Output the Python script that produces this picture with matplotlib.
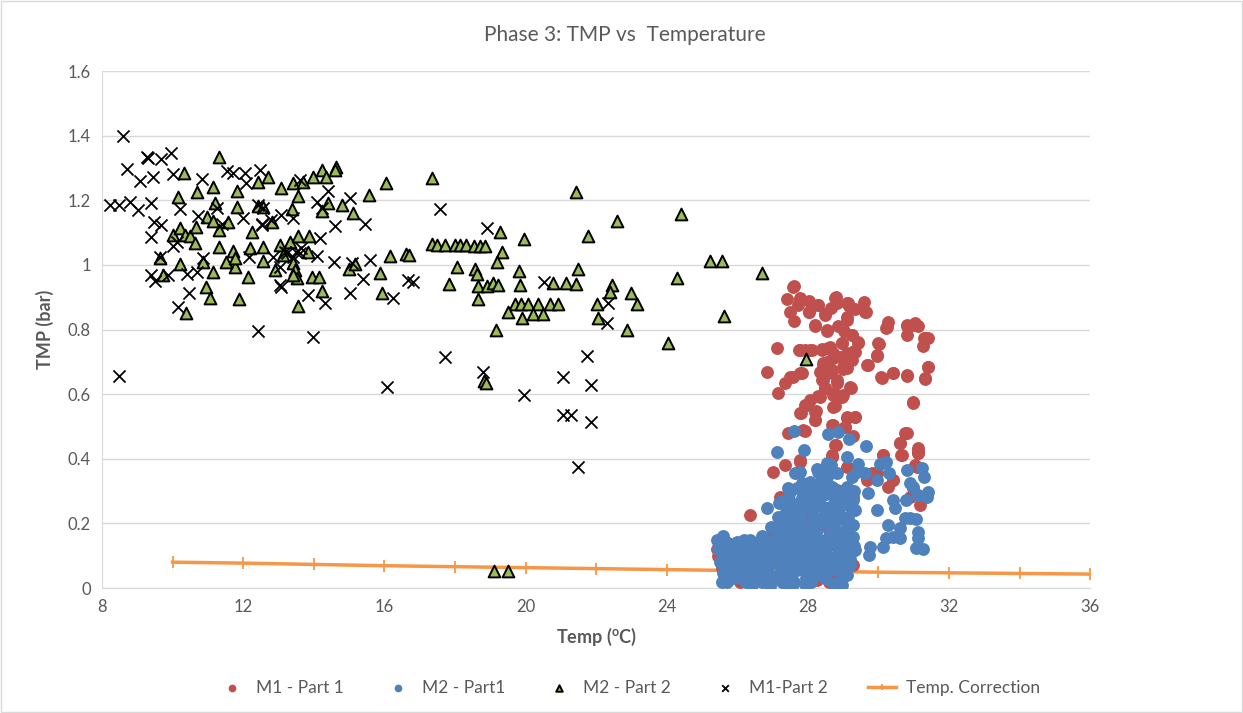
import numpy as np
import matplotlib.pyplot as plt
from matplotlib.patches import Rectangle

# M1 - Part 1 (red)
m1p1_temp = [27.62, 27.42, 27.78, 28.04, 27.50, 27.62, 27.73, 28.02, 28.30, 28.49, 28.65, 28.80, 28.84,
             29.10, 29.17, 29.34, 29.60, 29.64, 29.10, 28.85, 29.03, 28.20, 28.53, 29.24, 30.28, 30.23,
             30.80, 30.99, 31.13, 30.82, 31.29, 31.42, 31.26, 30.02, 29.95, 29.70, 29.43, 29.31, 28.96,
             27.12, 27.75, 27.92, 28.11, 28.39, 28.58, 28.72, 28.91, 29.10, 29.20, 28.53, 28.44, 28.68,
             29.01, 26.83, 27.50, 27.78, 27.35, 27.15, 28.39, 28.49, 28.82, 29.21, 29.01, 28.75, 28.30,
             27.97, 27.81, 28.23, 28.20, 28.77, 29.10, 29.34, 30.09, 30.42, 30.80, 31.42, 31.33, 30.99,
             28.72, 29.05, 27.45, 27.92, 28.80, 30.80, 30.61, 30.63, 31.13, 31.13, 30.14, 27.78, 27.35,
             27.02, 28.68, 29.10, 29.83, 30.28, 30.42, 31.09, 30.99, 31.18, 26.36, 27.21, 27.45, 27.78,
             28.06, 28.25, 28.68, 28.82, 29.29, 29.67, 29.95, 30.89, 25.42, 25.56, 25.89, 26.41, 26.83,
             27.12, 27.50, 27.78, 28.16, 28.25, 28.53, 28.87, 29.29, 26.08, 26.65, 27.31, 28.53, 28.82,
             29.10, 27.68,
             27.59, 27.78, 28.02, 28.30, 28.49, 28.77, 29.15, 29.62, 29.10, 28.54, 28.20, 29.24, 29.43,
             30.24, 30.80, 31.04, 31.32, 30.00, 29.95, 29.67, 31.42, 31.32, 30.80, 30.42, 30.07, 27.78,
             28.06, 28.39, 28.63, 28.96, 29.34, 29.24, 28.72, 28.44, 28.35, 28.58, 29.01, 29.10, 27.83,
             27.59, 28.44, 28.82, 29.20, 28.49, 28.72, 28.96, 28.35, 28.06, 27.92, 28.72, 27.78, 28.20,
             28.20, 29.10, 29.34, 29.05, 28.68, 27.87, 29.29, 28.77, 30.99, 30.76, 30.61, 31.13, 31.13,
             30.66, 30.14, 28.68, 27.78, 29.67, 29.95, 30.42, 31.04,
             25.45, 25.70, 26.00, 26.30, 26.60, 26.90, 27.30, 27.70, 28.05, 28.40, 28.75, 29.05, 26.20,
             27.00, 28.60, 27.40]
m1p1_tmp = [0.935, 0.893, 0.897, 0.889, 0.855, 0.827, 0.876, 0.853, 0.876, 0.847, 0.866, 0.900, 0.881,
            0.883, 0.873, 0.863, 0.886, 0.853, 0.840, 0.811, 0.796, 0.811, 0.795, 0.783, 0.824, 0.804,
            0.812, 0.814, 0.812, 0.783, 0.773, 0.773, 0.749, 0.754, 0.718, 0.690, 0.759, 0.732, 0.757,
            0.742, 0.737, 0.737, 0.737, 0.739, 0.742, 0.727, 0.716, 0.727, 0.706, 0.701, 0.685, 0.675,
            0.677, 0.668, 0.654, 0.664, 0.633, 0.605, 0.644, 0.620, 0.633, 0.620, 0.597, 0.603, 0.594,
            0.566, 0.543, 0.548, 0.520, 0.563, 0.525, 0.530, 0.651, 0.664, 0.656, 0.683, 0.646, 0.574,
            0.504, 0.499, 0.479, 0.487, 0.443, 0.479, 0.448, 0.412, 0.427, 0.417, 0.412, 0.391, 0.381,
            0.360, 0.407, 0.376, 0.357, 0.314, 0.334, 0.376, 0.309, 0.257, 0.226, 0.283, 0.272, 0.241,
            0.231, 0.272, 0.247, 0.303, 0.283, 0.334, 0.355, 0.283, 0.120, 0.061, 0.077, 0.082, 0.056,
            0.082, 0.128, 0.159, 0.149, 0.025, 0.087, 0.118, 0.071, 0.020, 0.046, 0.200, 0.190, 0.231,
            0.169, 0.190,
            0.933, 0.891, 0.855, 0.876, 0.845, 0.897, 0.881, 0.855, 0.830, 0.799, 0.814, 0.783, 0.762,
            0.809, 0.814, 0.819, 0.773, 0.757, 0.721, 0.690, 0.685, 0.649, 0.659, 0.664, 0.652, 0.737,
            0.737, 0.737, 0.747, 0.757, 0.731, 0.706, 0.711, 0.695, 0.670, 0.665, 0.685, 0.680, 0.664,
            0.654, 0.644, 0.644, 0.623, 0.618, 0.597, 0.592, 0.592, 0.582, 0.566, 0.561, 0.541, 0.546,
            0.520, 0.530, 0.530, 0.499, 0.505, 0.489, 0.469, 0.443, 0.577, 0.479, 0.448, 0.432, 0.417,
            0.412, 0.412, 0.412, 0.396, 0.345, 0.355, 0.334, 0.381,
            0.100, 0.040, 0.120, 0.030, 0.090, 0.150, 0.020, 0.110, 0.060, 0.130, 0.030, 0.090, 0.050,
            0.170, 0.020, 0.240]

# M2 - Part1 (blue)
m2p1_temp = [27.62, 28.58, 28.85, 29.17, 29.64, 27.14, 27.89, 29.10, 28.54, 28.25, 27.64, 27.78, 29.43,
             30.05, 30.23, 29.95, 29.62, 29.24, 28.82, 30.31, 30.82, 31.23, 31.29, 30.91, 30.99, 31.42,
             31.37, 31.13, 30.42, 30.47, 30.78, 29.71, 29.95, 29.29, 29.34, 29.01, 28.68, 28.35, 28.06,
             27.83, 27.45, 27.83, 28.20, 26.83, 27.18, 27.50, 27.17, 26.95, 27.40, 30.75, 30.89, 31.07,
             30.61, 30.28, 31.13, 31.13, 30.42, 30.61, 30.23, 30.14, 31.08, 31.27, 29.76, 29.72, 29.34,
             29.29, 28.91, 28.53, 28.16, 27.78, 27.50, 27.12, 26.74, 26.36, 25.98, 25.75, 25.42, 25.61,
             25.89, 26.17, 26.46, 26.83, 27.21, 27.59, 27.97, 28.35, 28.72, 29.10, 29.01, 28.63, 28.25,
             27.87, 27.50, 27.12, 26.74, 26.36, 25.98, 25.70, 25.61, 25.56, 25.98, 26.41, 26.93, 27.26,
             27.59, 27.92, 27.21, 27.69, 28.06, 28.44, 28.72, 28.96, 29.10, 28.82, 26.65, 26.27, 26.83,
             27.40, 27.97, 28.53, 28.44, 28.06, 27.69, 28.25, 28.63, 28.72, 28.44, 28.06, 27.78, 27.50,
             27.12, 28.82, 29.15, 29.29, 28.72, 28.54, 28.35, 29.10, 25.45, 25.80, 26.10, 26.55, 27.00,
             27.35, 27.85, 28.15, 28.45, 28.90, 26.20, 26.60, 27.05,
             25.55, 25.65, 25.72, 25.80, 25.85, 25.92, 26.00, 26.05, 26.12, 26.18, 26.25, 26.30, 26.35,
             26.42, 26.50, 26.55, 26.62, 26.70, 26.75, 26.80, 26.88, 26.95, 27.00, 27.05, 27.10, 27.18,
             27.25, 27.30, 27.35, 27.42, 27.48, 27.55, 27.60, 27.65, 27.72, 27.78, 27.82, 27.90, 27.95,
             28.00, 28.05, 28.12, 28.18, 28.22, 28.30, 28.35, 28.40, 28.48, 28.55, 28.60, 28.68, 28.75,
             28.80, 28.88, 28.95, 29.00, 29.08, 29.15, 29.20, 29.30, 25.75, 26.05, 26.58, 27.45, 28.10,
             26.20, 26.70, 25.60,
             27.15, 27.25, 27.30, 27.40, 27.48, 27.55, 27.62, 27.70, 27.75, 27.85, 27.90, 27.98, 28.02,
             28.10, 28.15, 28.22, 28.28, 28.35, 28.40, 28.45, 28.52, 28.58, 28.62, 28.70, 28.78, 28.85,
             28.92, 29.00, 29.05, 29.12, 29.22, 29.30, 28.50, 28.30, 28.65, 29.40,
             25.50, 25.90, 26.30, 26.65, 26.95, 27.20, 27.55, 27.85, 28.20, 28.50, 28.85, 29.20, 25.70,
             26.10, 26.45, 26.85, 27.35, 27.75, 28.15, 28.55, 28.95, 27.65, 28.00, 28.30, 28.70, 29.05,
             27.35, 27.95]
m2p1_tmp = [0.486, 0.476, 0.484, 0.461, 0.441, 0.420, 0.427, 0.407, 0.388, 0.367, 0.357, 0.360, 0.383,
            0.383, 0.391, 0.334, 0.355, 0.345, 0.355, 0.355, 0.365, 0.370, 0.345, 0.324, 0.314, 0.298,
            0.283, 0.288, 0.272, 0.247, 0.272, 0.293, 0.241, 0.272, 0.241, 0.293, 0.314, 0.324, 0.329,
            0.324, 0.309, 0.278, 0.288, 0.249, 0.262, 0.267, 0.216, 0.190, 0.231, 0.216, 0.216, 0.213,
            0.185, 0.195, 0.174, 0.154, 0.159, 0.154, 0.154, 0.128, 0.123, 0.120, 0.128, 0.102, 0.118,
            0.195, 0.169, 0.211, 0.211, 0.205, 0.190, 0.169, 0.159, 0.149, 0.143, 0.138, 0.149, 0.107,
            0.092, 0.113, 0.128, 0.123, 0.138, 0.149, 0.154, 0.149, 0.138, 0.128, 0.097, 0.097, 0.107,
            0.107, 0.097, 0.097, 0.092, 0.087, 0.082, 0.077, 0.046, 0.018, 0.046, 0.009, 0.006, 0.020,
            0.012, 0.012, 0.046, 0.056, 0.046, 0.056, 0.017, 0.009, 0.040, 0.056, 0.077, 0.066, 0.066,
            0.077, 0.077, 0.071, 0.128, 0.138, 0.128, 0.180, 0.169, 0.241, 0.252, 0.252, 0.231, 0.169,
            0.128, 0.211, 0.221, 0.159, 0.293, 0.324, 0.293, 0.314, 0.120, 0.110, 0.060, 0.110, 0.105,
            0.060, 0.185, 0.095, 0.110, 0.090, 0.030, 0.035, 0.030,
            0.130, 0.100, 0.140, 0.070, 0.120, 0.030, 0.100, 0.140, 0.060, 0.110, 0.020, 0.130, 0.050,
            0.100, 0.140, 0.070, 0.120, 0.020, 0.090, 0.140, 0.050, 0.110, 0.150, 0.030, 0.120, 0.070,
            0.150, 0.100, 0.040, 0.130, 0.180, 0.080, 0.020, 0.120, 0.170, 0.060, 0.110, 0.190, 0.030,
            0.140, 0.080, 0.180, 0.110, 0.040, 0.150, 0.090, 0.200, 0.120, 0.050, 0.160, 0.090, 0.190,
            0.130, 0.070, 0.160, 0.110, 0.050, 0.140, 0.090, 0.130, 0.050, 0.050, 0.030, 0.010, 0.020,
            0.150, 0.160, 0.160,
            0.220, 0.270, 0.190, 0.240, 0.290, 0.210, 0.260, 0.310, 0.220, 0.280, 0.240, 0.320, 0.200,
            0.270, 0.230, 0.310, 0.190, 0.260, 0.340, 0.220, 0.290, 0.350, 0.250, 0.310, 0.270, 0.240,
            0.300, 0.220, 0.270, 0.190, 0.250, 0.300, 0.370, 0.360, 0.380, 0.360,
            0.080, 0.120, 0.080, 0.050, 0.080, 0.040, 0.050, 0.090, 0.060, 0.030, 0.100, 0.070, 0.020,
            0.030, 0.120, 0.120, 0.070, 0.140, 0.130, 0.080, 0.030, 0.240, 0.300, 0.210, 0.230, 0.260,
            0.230, 0.170]

# M2 - Part 2 (green triangles)
m2p2_temp = [11.32, 10.33, 10.16, 10.68, 11.13, 11.20, 11.83, 11.83, 12.41, 12.69, 13.07, 13.42, 13.70,
             13.99, 14.24, 14.36, 14.63, 14.60, 13.56, 14.41, 14.81, 15.12, 15.57, 16.05, 14.24, 13.37,
             12.43, 12.55, 10.97, 11.15, 11.58, 11.30, 12.81, 12.24, 10.02, 10.21, 10.35, 10.49, 10.63,
             10.65, 11.32, 11.70, 12.19, 12.55, 13.04, 13.33, 13.56, 13.86, 13.84, 13.14, 13.42, 13.47,
             13.52, 13.42, 13.94, 14.15, 14.24, 13.56, 12.55, 12.90, 12.14, 11.77, 11.51, 11.13, 10.87,
             10.21, 9.64, 9.74, 10.95, 11.06, 10.38, 11.88, 14.99, 15.18, 15.88, 15.93, 16.15, 16.61,
             11.77,
             17.36, 21.42, 24.41, 22.58, 19.28, 19.97, 21.76, 19.33, 16.70, 17.34, 17.48, 17.72, 18.00,
             18.14, 18.31, 18.54, 18.71, 18.85, 19.18, 18.05, 18.57, 18.62, 19.82, 21.50, 25.23, 25.58,
             24.30, 17.84, 18.66, 18.90, 19.07, 19.21, 19.84, 20.79, 21.14, 21.42, 22.46, 22.39, 22.99,
             18.66, 19.70, 19.86, 20.06, 20.35, 20.69, 20.93, 22.04, 23.17, 19.49, 19.89, 20.22, 20.49,
             22.05, 19.16, 22.89, 24.05, 25.63, 18.81, 18.87, 26.71, 27.95, 19.10, 19.50]
m2p2_tmp = [1.333, 1.285, 1.209, 1.227, 1.242, 1.190, 1.230, 1.180, 1.258, 1.271, 1.239, 1.254, 1.258,
            1.273, 1.294, 1.271, 1.304, 1.294, 1.213, 1.190, 1.185, 1.162, 1.216, 1.252, 1.168, 1.172,
            1.182, 1.178, 1.149, 1.136, 1.134, 1.108, 1.134, 1.103, 1.092, 1.113, 1.092, 1.089, 1.067,
            1.118, 1.056, 1.043, 1.051, 1.056, 1.062, 1.072, 1.088, 1.088, 1.041, 1.031, 1.005, 0.984,
            0.958, 0.969, 0.962, 0.962, 0.920, 0.874, 1.012, 0.984, 0.962, 0.995, 1.008, 0.979, 1.008,
            1.003, 1.020, 0.969, 0.933, 0.896, 0.850, 0.894, 0.986, 1.003, 0.974, 0.912, 1.028, 1.033,
            1.020,
            1.268, 1.225, 1.158, 1.137, 1.103, 1.079, 1.090, 1.041, 1.031, 1.065, 1.062, 1.062, 1.062,
            1.062, 1.062, 1.059, 1.059, 1.059, 1.008, 0.995, 0.986, 0.971, 0.981, 0.986, 1.013, 1.013,
            0.959, 0.941, 0.935, 0.935, 0.943, 0.938, 0.938, 0.945, 0.943, 0.940, 0.938, 0.917, 0.912,
            0.895, 0.879, 0.879, 0.879, 0.879, 0.879, 0.879, 0.879, 0.879, 0.855, 0.835, 0.847, 0.847,
            0.837, 0.799, 0.799, 0.757, 0.842, 0.641, 0.634, 0.976, 0.709, 0.052, 0.052]

# M1-Part 2 (black crosses)
m1p2_temp = [8.58, 8.23, 8.49, 8.79, 9.03, 8.70, 9.08, 9.27, 9.31, 9.67, 9.95, 9.43, 10.02, 9.38, 9.47,
             9.67, 9.40, 9.64, 9.38, 9.50, 9.88, 10.21, 10.73, 10.82, 10.02, 10.11, 10.40, 10.68, 10.45,
             10.16, 10.85, 11.27, 11.39, 11.53, 11.72, 12.05, 12.48, 12.09, 12.00, 12.42, 12.56, 12.52,
             12.54, 12.80, 13.08, 13.42, 12.16, 12.85, 13.04, 13.18, 13.23, 13.51, 13.65, 13.04, 13.08,
             13.84, 14.31, 12.41, 13.99, 14.08, 14.19, 13.42, 13.61, 14.41, 14.08, 14.22, 14.60, 15.02,
             15.45, 15.59, 15.40, 15.02, 16.25, 16.68, 14.57, 15.07, 13.61, 8.49, 16.08,
             17.58, 18.90, 16.80, 20.52, 22.35, 22.32, 17.72, 21.75, 18.80, 21.05, 21.87, 19.97, 21.07,
             21.28, 21.87, 21.50]
m1p2_tmp = [1.400, 1.185, 1.185, 1.195, 1.170, 1.296, 1.260, 1.335, 1.330, 1.327, 1.345, 1.273, 1.280,
            1.190, 1.134, 1.124, 1.087, 1.023, 0.969, 0.951, 0.969, 1.172, 1.151, 1.265, 1.057, 1.072,
            0.972, 0.979, 0.912, 0.871, 1.020, 1.175, 1.128, 1.290, 1.283, 1.283, 1.294, 1.252, 1.144,
            1.185, 1.175, 1.128, 1.124, 1.139, 1.155, 1.144, 1.025, 1.023, 0.995, 1.041, 1.036, 1.041,
            1.051, 0.938, 0.933, 0.907, 0.881, 0.796, 0.778, 1.028, 1.083, 1.025, 1.036, 1.230, 1.196,
            1.175, 1.120, 1.206, 1.128, 1.015, 0.955, 0.912, 0.898, 0.953, 1.010, 1.007, 1.263, 0.656,
            0.621,
            1.172, 1.113, 0.948, 0.948, 0.881, 0.821, 0.716, 0.719, 0.667, 0.654, 0.628, 0.598, 0.534,
            0.536, 0.515, 0.376]

# Temp. Correction line
corr_temp = [10, 12, 14, 16, 18, 20, 22, 24, 26, 28, 30, 32, 34, 36]
corr_tmp = [0.080, 0.077, 0.073, 0.069, 0.066, 0.063, 0.060, 0.057, 0.054, 0.052, 0.049, 0.047, 0.045, 0.043]

text_col = '#595959'
plt.rcParams['font.family'] = ['Lato', 'DejaVu Sans']
plt.rcParams['mathtext.fontset'] = 'custom'
plt.rcParams['mathtext.rm'] = 'Lato'

fig = plt.figure(figsize=(12.43, 7.13), dpi=100)
ax = fig.add_axes([0.0821, 0.1753, 0.7949, 0.7251])

ax.plot(corr_temp, corr_tmp, color='#F79646', lw=2.5, marker='|', ms=9, mew=1.3,
        label='Temp. Correction', zorder=2)
ax.scatter(m1p1_temp, m1p1_tmp, s=68, color='#C0504D', label='M1 - Part 1', zorder=3)
ax.scatter(m2p1_temp, m2p1_tmp, s=68, color='#4F81BD', label='M2 - Part1', zorder=4)
ax.scatter(m2p2_temp, m2p2_tmp, s=72, marker='^', color='#9BBB59', edgecolors='black',
           linewidths=1.4, label='M2 - Part 2', zorder=5)
ax.scatter(m1p2_temp, m1p2_tmp, s=75, marker='x', color='black', linewidths=1.3,
           label='M1-Part 2', zorder=6)

ax.set_xlim(8, 36)
ax.set_ylim(0, 1.6)
ax.set_xticks(np.arange(8, 37, 4))
ax.set_yticks(np.arange(0, 1.61, 0.2))
ax.set_yticklabels(['0', '0.2', '0.4', '0.6', '0.8', '1', '1.2', '1.4', '1.6'])
ax.grid(axis='y', color='#D9D9D9', lw=1)
ax.set_axisbelow(True)
for side in ['top', 'right']:
    ax.spines[side].set_visible(False)
for side in ['left', 'bottom']:
    ax.spines[side].set_color('#D9D9D9')
ax.tick_params(length=0, labelsize=12, colors=text_col, pad=8)

ax.set_xlabel(r'Temp ($\mathregular{^o}$C)', fontsize=13, fontweight='bold', color=text_col, labelpad=8)
ax.set_ylabel('TMP (bar)', fontsize=13, fontweight='bold', color=text_col, labelpad=10)
fig.suptitle('Phase 3: TMP vs  Temperature', x=0.503, y=0.965, fontsize=15, color=text_col)

handles, labels = ax.get_legend_handles_labels()
order = [1, 2, 3, 4, 0]
ax.legend([handles[i] for i in order], [labels[i] for i in order], loc='center',
          bbox_to_anchor=(0.506, 0.035), bbox_transform=fig.transFigure, ncol=5, frameon=False,
          fontsize=12.5, labelcolor=text_col, markerscale=0.55, handlelength=1.6,
          columnspacing=2.3, handletextpad=0.6)

fig.patches.append(Rectangle((0.001, 0.001), 0.998, 0.997, transform=fig.transFigure,
                             fill=False, edgecolor='#D9D9D9', lw=1))

fig.savefig('out.png', dpi=100)
